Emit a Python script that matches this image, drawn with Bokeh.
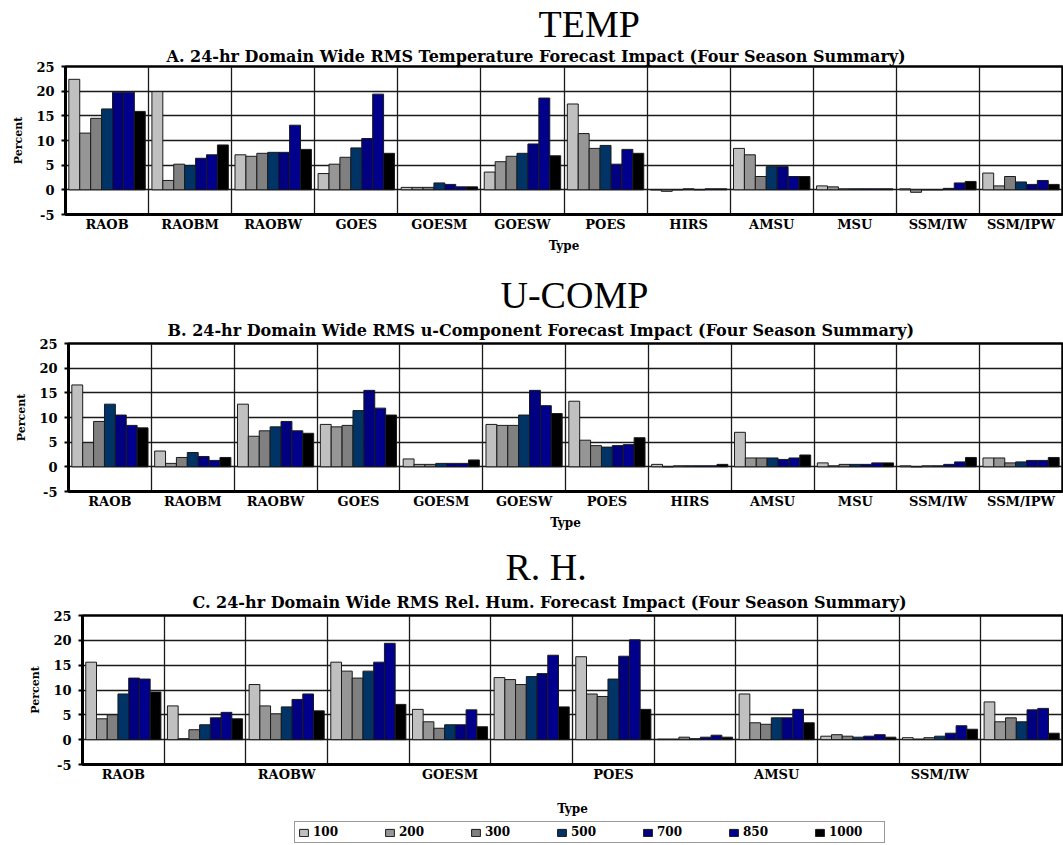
import numpy as np
from bokeh.plotting import figure
from bokeh.models import Range1d, FixedTicker, Title, Legend, LegendItem
from bokeh.embed import file_html
from bokeh.resources import INLINE

CATEGORIES = ["RAOB", "RAOBM", "RAOBW", "GOES", "GOESM", "GOESW",
              "POES", "HIRS", "AMSU", "MSU", "SSM/IW", "SSM/IPW"]
LEVELS = ["100", "200", "300", "500", "700", "850", "1000"]
COLORS = ["#C0C0C0", "#969696", "#808080", "#003366", "#000080", "#00008C", "#000000"]
Y_TICKS = [-5, 0, 5, 10, 15, 20, 25]

# A. Temperature
TEMP_100 = [22.4, 19.9, 7.1, 3.3, 0.5, 3.6, 17.4, 0.0, 8.4, 0.8, 0.2, 3.4]
TEMP_200 = [11.5, 1.9, 6.8, 5.2, 0.5, 5.7, 11.4, -0.3, 7.1, 0.6, -0.5, 0.8]
TEMP_300 = [14.5, 5.2, 7.4, 6.6, 0.5, 6.8, 8.4, 0.0, 2.7, 0.2, 0.0, 2.7]
TEMP_500 = [16.4, 4.9, 7.6, 8.5, 1.4, 7.4, 9.0, 0.2, 4.7, 0.2, 0.0, 1.6]
TEMP_700 = [19.8, 6.4, 7.6, 10.4, 1.1, 9.3, 5.2, 0.0, 4.7, 0.2, 0.3, 1.1]
TEMP_850 = [19.8, 7.1, 13.1, 19.4, 0.6, 18.6, 8.2, 0.2, 2.7, 0.2, 1.4, 1.9]
TEMP_1000 = [15.9, 9.1, 8.2, 7.4, 0.6, 6.9, 7.4, 0.2, 2.7, 0.2, 1.7, 1.1]

# B. u-Component
U_100 = [16.6, 3.2, 12.7, 8.6, 1.6, 8.6, 13.3, 0.5, 7.0, 0.8, 0.2, 1.8]
U_200 = [4.9, 0.7, 6.2, 8.1, 0.5, 8.4, 5.4, 0.0, 1.8, 0.2, 0.0, 1.8]
U_300 = [9.2, 1.9, 7.3, 8.4, 0.5, 8.4, 4.3, 0.2, 1.8, 0.5, 0.2, 0.8]
U_500 = [12.7, 2.9, 8.1, 11.4, 0.7, 10.5, 4.0, 0.2, 1.8, 0.5, 0.2, 1.0]
U_700 = [10.5, 2.1, 9.2, 15.5, 0.7, 15.5, 4.3, 0.2, 1.5, 0.5, 0.5, 1.3]
U_850 = [8.4, 1.3, 7.3, 11.9, 0.7, 12.4, 4.5, 0.2, 1.8, 0.8, 1.0, 1.3]
U_1000 = [7.9, 1.9, 6.8, 10.5, 1.4, 10.8, 5.9, 0.5, 2.4, 0.8, 1.9, 1.9]

# C. Relative humidity
RH_100 = [15.6, 6.8, 11.1, 15.6, 6.1, 12.5, 16.7, 0.1, 9.2, 0.7, 0.4, 7.6]
RH_200 = [4.2, 0.2, 6.8, 13.8, 3.6, 12.1, 9.2, 0.1, 3.4, 1.0, 0.1, 3.6]
RH_300 = [5.0, 2.0, 5.2, 12.4, 2.3, 11.1, 8.7, 0.5, 3.1, 0.7, 0.4, 4.4]
RH_500 = [9.2, 3.0, 6.6, 13.8, 3.0, 12.7, 12.2, 0.2, 4.4, 0.5, 0.7, 3.6]
RH_700 = [12.4, 4.4, 8.1, 15.6, 3.0, 13.3, 16.8, 0.5, 4.4, 0.7, 1.3, 6.0]
RH_850 = [12.2, 5.5, 9.2, 19.4, 6.0, 17.0, 20.1, 0.9, 6.1, 1.0, 2.8, 6.3]
RH_1000 = [9.6, 4.2, 5.8, 7.1, 2.6, 6.6, 6.1, 0.5, 3.4, 0.5, 2.1, 1.3]

RH_SERIES = [RH_100, RH_200, RH_300, RH_500, RH_700, RH_850, RH_1000]

SERIF = "DejaVu Serif"
BIG = "Liberation Serif"


def make_panel(big, big_offset, sub, sub_offset, sub_standoff, series, height, top,
               bottom, left, label_step=1, type_standoff=4):
    n = len(CATEGORIES)
    p = figure(width=1063, height=height, x_range=Range1d(0, n), y_range=Range1d(-5, 25),
               output_backend="svg", toolbar_location=None,
               min_border_left=left, min_border_right=1, min_border_top=top,
               min_border_bottom=bottom)
    p.background_fill_color = "white"
    p.border_fill_color = "white"
    p.outline_line_color = "black"
    p.outline_line_width = 2.5

    # big title (outer)
    p.title.text = big
    p.title.text_font = BIG
    p.title.text_font_size = "38px"
    p.title.text_font_style = "normal"
    p.title.text_color = "black"
    p.title.align = "left"
    p.title.offset = big_offset
    p.title.standoff = 0
    # subtitle (next to the frame)
    p.add_layout(Title(text=sub, text_font=SERIF, text_font_size="16px",
                       text_font_style="bold", text_color="black", align="left",
                       offset=sub_offset, standoff=sub_standoff), "above")

    w = 0.92 / len(LEVELS)
    for j, vals in enumerate(series):
        xs = np.arange(n) + 0.5 + (j - 3) * w
        p.vbar(x=xs, top=vals, bottom=0, width=w, fill_color=COLORS[j],
               line_color="#1a1a1a", line_width=1)

    shown = list(range(0, n, label_step))
    p.xaxis.ticker = FixedTicker(ticks=[i + 0.5 for i in shown])
    p.xaxis.major_label_overrides = {i + 0.5: CATEGORIES[i] for i in shown}
    p.xaxis.major_tick_line_color = None
    p.xaxis.major_tick_out = 0
    p.xaxis.major_tick_in = 0
    p.xaxis.minor_tick_line_color = None
    p.xaxis.axis_line_width = 3
    p.xaxis.axis_line_color = "black"
    p.xaxis.major_label_text_font = SERIF
    p.xaxis.major_label_text_font_style = "bold"
    p.xaxis.major_label_text_font_size = "13px"
    p.xaxis.major_label_text_color = "black"
    p.xaxis.major_label_standoff = 2
    p.xaxis.axis_label = "Type"
    p.xaxis.axis_label_text_font = SERIF
    p.xaxis.axis_label_text_font_style = "bold"
    p.xaxis.axis_label_text_font_size = "12px"
    p.xaxis.axis_label_text_color = "black"
    p.xaxis.axis_label_standoff = type_standoff

    p.yaxis.ticker = FixedTicker(ticks=Y_TICKS)
    p.yaxis.major_label_overrides = {t: str(t) for t in Y_TICKS}
    p.yaxis.axis_line_width = 3
    p.yaxis.axis_line_color = "black"
    p.yaxis.major_tick_line_color = "black"
    p.yaxis.major_tick_line_width = 2
    p.yaxis.major_tick_out = 4
    p.yaxis.major_tick_in = 0
    p.yaxis.minor_tick_line_color = None
    p.yaxis.major_label_text_font = SERIF
    p.yaxis.major_label_text_font_style = "bold"
    p.yaxis.major_label_text_font_size = "13px"
    p.yaxis.major_label_text_color = "black"
    p.yaxis.major_label_standoff = 7
    p.yaxis.axis_label = "Percent"
    p.yaxis.axis_label_text_font = SERIF
    p.yaxis.axis_label_text_font_style = "bold"
    p.yaxis.axis_label_text_font_size = "11px"
    p.yaxis.axis_label_text_color = "black"
    p.yaxis.axis_label_standoff = 8

    p.ygrid.ticker = FixedTicker(ticks=Y_TICKS)
    p.ygrid.grid_line_color = "#1a1a1a"
    p.ygrid.grid_line_width = 1.3
    p.xgrid.ticker = FixedTicker(ticks=list(range(n + 1)))
    p.xgrid.grid_line_color = "#1a1a1a"
    p.xgrid.grid_line_width = 1.3
    return p


pA = make_panel("TEMP", 473,
                "A. 24-hr Domain Wide RMS Temperature Forecast Impact (Four Season Summary)", 101, 1,
                [TEMP_100, TEMP_200, TEMP_300, TEMP_500, TEMP_700, TEMP_850, TEMP_1000],
                height=270, top=66, bottom=56, left=65)
pB = make_panel("U-COMP", 432,
                "B.  24-hr Domain Wide RMS u-Component Forecast Impact (Four Season Summary)", 99, 7,
                [U_100, U_200, U_300, U_500, U_700, U_850, U_1000],
                height=273, top=73, bottom=52, left=68)
pC = make_panel("R. H.", 423,
                "C. 24-hr Domain Wide RMS Rel. Hum. Forecast Impact (Four Season Summary)", 110, 7,
                RH_SERIES, height=277, top=70, bottom=56, left=82, label_step=2,
                type_standoff=17)

# legend strip: the R.H. series drawn again, but outside the visible ranges,
# so only the legend swatches show
pL = figure(width=1063, height=25, x_range=Range1d(-60, -59),
            y_range=Range1d(100, 101), output_backend="svg", toolbar_location=None,
            x_axis_location=None, y_axis_location=None,
            min_border_left=0, min_border_right=0, min_border_top=0, min_border_bottom=0)
pL.outline_line_color = None
pL.xgrid.visible = False
pL.ygrid.visible = False
items = []
for j, (lvl, col, vals) in enumerate(zip(LEVELS, COLORS, RH_SERIES)):
    r = pL.vbar(x=np.arange(len(CATEGORIES)) + 0.5, top=vals, bottom=0, width=0.1,
                fill_color=col, line_color="#1a1a1a", line_width=1)
    items.append(LegendItem(label=lvl, renderers=[r]))
leg = Legend(items=items, orientation="horizontal", location=(294, 2),
             glyph_width=11, glyph_height=9, label_standoff=4, label_width=52,
             spacing=19, padding=3, margin=0,
             label_text_font=SERIF, label_text_font_style="bold",
             label_text_font_size="12px", label_text_color="black", label_height=12,
             border_line_color="#333333", border_line_width=1.5,
             background_fill_color="white", background_fill_alpha=1.0)
pL.add_layout(leg)

open("out.html", "w").write(file_html([pA, pB, pC, pL], INLINE))
